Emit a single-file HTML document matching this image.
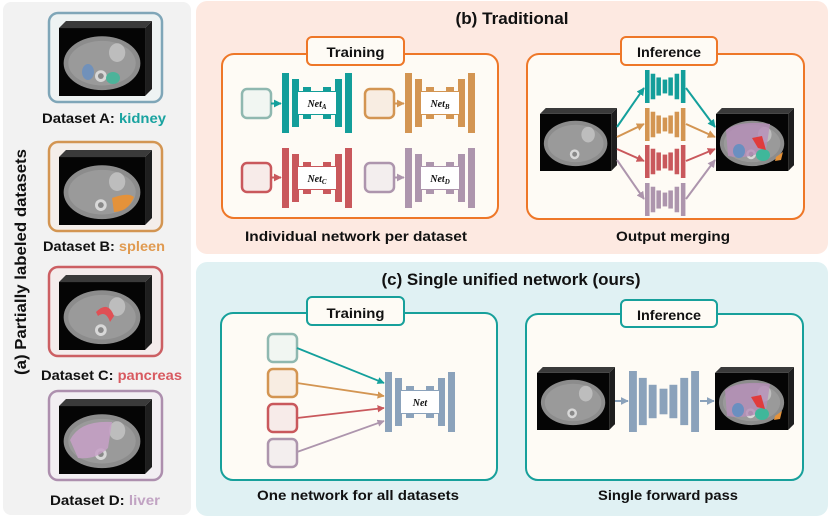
<!DOCTYPE html>
<html><head><meta charset="utf-8"><style>
html,body{margin:0;padding:0;background:#fff;}
svg{display:block;}
text{font-family:"Liberation Sans",sans-serif;font-weight:bold;fill:#111;}
</style></head><body>
<svg width="830" height="517" viewBox="0 0 830 517" xmlns="http://www.w3.org/2000/svg">
<defs>
<symbol id="ct" viewBox="0 0 80 64" preserveAspectRatio="none">
<polygon points="0,6 6,0 80,0 74,6" fill="#3a3a3a"/>
<polygon points="74,6 80,0 80,58 74,64" fill="#1e1e1e"/>
<rect x="0" y="6" width="74" height="58" fill="#050505"/>
<ellipse cx="37" cy="36" rx="33" ry="23" fill="#8c8c8c"/>
<ellipse cx="37" cy="36" rx="29" ry="19" fill="#9a9a9a"/>
<ellipse cx="50" cy="27" rx="7" ry="8" fill="#bdbdbd"/>
<circle cx="36" cy="47" r="5" fill="#d8d8d8"/>
<circle cx="36" cy="47" r="2.5" fill="#888"/>
</symbol>
<symbol id="net" viewBox="0 0 70 60" preserveAspectRatio="none">
<rect x="0" y="0" width="7" height="60"/>
<rect x="63" y="0" width="7" height="60"/>
<rect x="10" y="6" width="7" height="48"/>
<rect x="53" y="6" width="7" height="48"/>
<rect x="17" y="18" width="36" height="24"/>
<rect x="21" y="14" width="8" height="32"/>
<rect x="41" y="14" width="8" height="32"/>
</symbol>
<symbol id="unet" viewBox="0 0 72 62" preserveAspectRatio="none">
<rect x="0" y="0" width="8" height="62"/>
<rect x="10" y="7" width="8" height="48"/>
<rect x="20" y="14" width="8" height="34"/>
<rect x="31" y="18" width="8" height="26"/>
<rect x="41" y="14" width="8" height="34"/>
<rect x="52" y="7" width="8" height="48"/>
<rect x="63" y="0" width="8" height="62"/>
</symbol>
<marker id="ah" viewBox="0 0 10 10" refX="9" refY="5" markerWidth="4" markerHeight="4" orient="auto"><path d="M0,0 L10,5 L0,10 z" fill="context-stroke"/></marker>
</defs>

<!-- (a) panel -->
<rect x="3" y="2" width="188" height="513" rx="8" fill="#f2f2f2"/>
<text transform="translate(26,262) rotate(-90)" text-anchor="middle" font-size="16" textLength="226" lengthAdjust="spacingAndGlyphs">(a) Partially labeled datasets</text>

<rect x="49" y="13" width="113" height="89" rx="9" fill="#eef3f3" stroke="#7fa6b8" stroke-width="2.5"/>
<use href="#ct" x="59" y="21" width="93" height="75"/>
<ellipse cx="88" cy="72" rx="6" ry="8" fill="#6a8fc0" opacity="0.85"/>
<ellipse cx="113" cy="78" rx="7" ry="6" fill="#3fb79a" opacity="0.85"/>
<text x="42" y="123" font-size="14" textLength="124" lengthAdjust="spacingAndGlyphs">Dataset A: <tspan style="fill:#19a3a0">kidney</tspan></text>

<rect x="49" y="142" width="113" height="89" rx="9" fill="#f4eeea" stroke="#d39552" stroke-width="2.5"/>
<use href="#ct" x="59" y="150" width="93" height="75"/>
<path d="M112,198 Q128,192 134,197 Q128,212 114,212 Z" fill="#e4923a"/>
<text x="43" y="251" font-size="14" textLength="122" lengthAdjust="spacingAndGlyphs">Dataset B: <tspan style="fill:#e09a50">spleen</tspan></text>

<rect x="49" y="267" width="113" height="89" rx="9" fill="#f4ecec" stroke="#cc5f63" stroke-width="2.5"/>
<use href="#ct" x="59" y="275" width="93" height="75"/>
<path d="M96,312 Q108,300 114,316 L110,322 Q106,310 98,316 Z" fill="#e05055"/>
<text x="41" y="380" font-size="14" textLength="141" lengthAdjust="spacingAndGlyphs">Dataset C: <tspan style="fill:#d85a60">pancreas</tspan></text>

<rect x="49" y="391" width="113" height="89" rx="9" fill="#f2eef2" stroke="#ad8fae" stroke-width="2.5"/>
<use href="#ct" x="59" y="399" width="93" height="75"/>
<path d="M70,440 Q80,420 112,422 L108,448 Q96,460 78,458 Z" fill="#c7a0c7" opacity="0.85"/>
<text x="50" y="505" font-size="14" textLength="110" lengthAdjust="spacingAndGlyphs">Dataset D: <tspan style="fill:#c1a3c3">liver</tspan></text>

<!-- (b) panel -->
<rect x="196" y="1" width="632" height="253" rx="11" fill="#fde9e1"/>
<text x="512" y="24" text-anchor="middle" font-size="17" textLength="113" lengthAdjust="spacingAndGlyphs">(b) Traditional</text>

<rect x="222" y="54" width="276" height="164" rx="12" fill="#fefbf5" stroke="#ee7728" stroke-width="2"/>
<rect x="307" y="37" width="97" height="28" rx="5" fill="#fefbf5" stroke="#ee7728" stroke-width="2"/>
<text x="355.5" y="57" text-anchor="middle" font-size="14" textLength="58" lengthAdjust="spacingAndGlyphs">Training</text>

<rect x="242" y="89" width="29" height="29" rx="5" fill="#f1f6f2" stroke="#8fb8b0" stroke-width="2.5"/>
<line x1="271" y1="103.5" x2="281" y2="103.5" stroke="#14a09c" stroke-width="2" marker-end="url(#ah)"/>
<use href="#net" x="282" y="73" width="70" height="60" fill="#139e9a"/>
<rect x="298" y="92" width="38" height="22" fill="#fff"/>
<text x="317" y="107" text-anchor="middle" font-size="10" font-style="italic" style="font-family:'Liberation Serif',serif">Net<tspan font-size="7" dy="2">A</tspan></text>

<rect x="365" y="89" width="29" height="29" rx="5" fill="#f8ede2" stroke="#d39552" stroke-width="2.5"/>
<line x1="394" y1="103.5" x2="404" y2="103.5" stroke="#d39552" stroke-width="2" marker-end="url(#ah)"/>
<use href="#net" x="405" y="73" width="70" height="60" fill="#d39552"/>
<rect x="421" y="92" width="38" height="22" fill="#fff"/>
<text x="440" y="107" text-anchor="middle" font-size="10" font-style="italic" style="font-family:'Liberation Serif',serif">Net<tspan font-size="7" dy="2">B</tspan></text>

<rect x="242" y="163" width="29" height="29" rx="5" fill="#f7ebe9" stroke="#c9585c" stroke-width="2.5"/>
<line x1="271" y1="177.5" x2="281" y2="177.5" stroke="#c9585c" stroke-width="2" marker-end="url(#ah)"/>
<use href="#net" x="282" y="148" width="70" height="60" fill="#c9585c"/>
<rect x="298" y="167" width="38" height="22" fill="#fff"/>
<text x="317" y="182" text-anchor="middle" font-size="10" font-style="italic" style="font-family:'Liberation Serif',serif">Net<tspan font-size="7" dy="2">C</tspan></text>

<rect x="365" y="163" width="29" height="29" rx="5" fill="#f3eeee" stroke="#ad95ad" stroke-width="2.5"/>
<line x1="394" y1="177.5" x2="404" y2="177.5" stroke="#ad95ad" stroke-width="2" marker-end="url(#ah)"/>
<use href="#net" x="405" y="148" width="70" height="60" fill="#ad95ad"/>
<rect x="421" y="167" width="38" height="22" fill="#fff"/>
<text x="440" y="182" text-anchor="middle" font-size="10" font-style="italic" style="font-family:'Liberation Serif',serif">Net<tspan font-size="7" dy="2">D</tspan></text>

<text x="356" y="241" text-anchor="middle" font-size="14" textLength="222" lengthAdjust="spacingAndGlyphs">Individual network per dataset</text>

<rect x="527" y="54" width="277" height="165" rx="12" fill="#fefbf5" stroke="#ee7728" stroke-width="2"/>
<rect x="621" y="37" width="96" height="28" rx="5" fill="#fefbf5" stroke="#ee7728" stroke-width="2"/>
<text x="669" y="57" text-anchor="middle" font-size="14" textLength="64" lengthAdjust="spacingAndGlyphs">Inference</text>

<use href="#ct" x="540" y="108" width="77" height="63"/>
<use href="#ct" x="716" y="108" width="78" height="63"/>
<path d="M726,130 Q740,120 770,124 L766,150 Q748,160 728,156 Z" fill="#b78fb9" opacity="0.8"/>
<ellipse cx="739" cy="151" rx="6" ry="7" fill="#6a8fc0"/>
<ellipse cx="763" cy="155" rx="7" ry="6" fill="#3fb79a"/>
<path d="M752,138 L762,136 L766,150 L758,148 Z" fill="#e03c3c"/>
<path d="M776,157 L783,152 L781,160 L775,161 Z" fill="#e4923a"/>

<g stroke-width="2" fill="none">
<line x1="617" y1="127" x2="644" y2="88" stroke="#14a09c" marker-end="url(#ah)"/>
<line x1="617" y1="137" x2="644" y2="124" stroke="#d39552" marker-end="url(#ah)"/>
<line x1="617" y1="149" x2="644" y2="161" stroke="#c9585c" marker-end="url(#ah)"/>
<line x1="617" y1="160" x2="644" y2="199" stroke="#ad95ad" marker-end="url(#ah)"/>
<line x1="686" y1="88" x2="715" y2="127" stroke="#14a09c" marker-end="url(#ah)"/>
<line x1="686" y1="124" x2="715" y2="137" stroke="#d39552" marker-end="url(#ah)"/>
<line x1="686" y1="161" x2="715" y2="149" stroke="#c9585c" marker-end="url(#ah)"/>
<line x1="686" y1="199" x2="715" y2="160" stroke="#ad95ad" marker-end="url(#ah)"/>
</g>
<use href="#unet" x="645" y="70" width="41" height="33" fill="#139e9a"/>
<use href="#unet" x="645" y="108" width="41" height="33" fill="#d39552"/>
<use href="#unet" x="645" y="145" width="41" height="33" fill="#c9585c"/>
<use href="#unet" x="645" y="183" width="41" height="33" fill="#ad95ad"/>

<text x="673" y="241" text-anchor="middle" font-size="14" textLength="114" lengthAdjust="spacingAndGlyphs">Output merging</text>

<!-- (c) panel -->
<rect x="196" y="262" width="632" height="254" rx="11" fill="#e0f1f3"/>
<text x="511" y="285" text-anchor="middle" font-size="17" textLength="259" lengthAdjust="spacingAndGlyphs">(c) Single unified network (ours)</text>

<rect x="221" y="313" width="276" height="167" rx="12" fill="#fefbf5" stroke="#17a09b" stroke-width="2"/>
<rect x="307" y="297" width="97" height="28" rx="5" fill="#fefbf5" stroke="#17a09b" stroke-width="2"/>
<text x="355.5" y="318" text-anchor="middle" font-size="14" textLength="58" lengthAdjust="spacingAndGlyphs">Training</text>

<rect x="268" y="334" width="29" height="28" rx="5" fill="#f1f6f2" stroke="#8fb8b0" stroke-width="2.5"/>
<rect x="268" y="369" width="29" height="28" rx="5" fill="#f8ede2" stroke="#d39552" stroke-width="2.5"/>
<rect x="268" y="404" width="29" height="28" rx="5" fill="#f7ebe9" stroke="#c9585c" stroke-width="2.5"/>
<rect x="268" y="439" width="29" height="28" rx="5" fill="#f3eeee" stroke="#ad95ad" stroke-width="2.5"/>
<g stroke-width="1.8">
<line x1="297" y1="348" x2="384" y2="383" stroke="#14a09c" marker-end="url(#ah)"/>
<line x1="297" y1="383" x2="384" y2="396" stroke="#d39552" marker-end="url(#ah)"/>
<line x1="297" y1="418" x2="384" y2="408" stroke="#c9585c" marker-end="url(#ah)"/>
<line x1="297" y1="452" x2="384" y2="421" stroke="#ad95ad" marker-end="url(#ah)"/>
</g>
<use href="#net" x="385" y="372" width="70" height="60" fill="#8ba2bb"/>
<rect x="401" y="391" width="38" height="22" fill="#fff"/>
<text x="420" y="406" text-anchor="middle" font-size="10" font-style="italic" style="font-family:'Liberation Serif',serif">Net</text>

<text x="358" y="500" text-anchor="middle" font-size="14" textLength="202" lengthAdjust="spacingAndGlyphs">One network for all datasets</text>

<rect x="526" y="314" width="277" height="166" rx="12" fill="#fefbf5" stroke="#17a09b" stroke-width="2"/>
<rect x="621" y="300" width="96" height="27" rx="5" fill="#fefbf5" stroke="#17a09b" stroke-width="2"/>
<text x="669" y="320" text-anchor="middle" font-size="14" textLength="64" lengthAdjust="spacingAndGlyphs">Inference</text>

<use href="#ct" x="537" y="367" width="78" height="63"/>
<use href="#ct" x="715" y="367" width="79" height="63"/>
<path d="M725,390 Q740,380 770,384 L766,410 Q748,420 727,416 Z" fill="#b78fb9" opacity="0.8"/>
<ellipse cx="738" cy="410" rx="6" ry="7" fill="#6a8fc0"/>
<ellipse cx="762" cy="414" rx="7" ry="6" fill="#3fb79a"/>
<path d="M751,397 L761,395 L765,409 L757,407 Z" fill="#e03c3c"/>
<path d="M775,416 L782,411 L780,419 L774,420 Z" fill="#e4923a"/>
<g stroke="#8ba2bb" stroke-width="2">
<line x1="615" y1="401" x2="628" y2="401" marker-end="url(#ah)"/>
<line x1="700" y1="401" x2="714" y2="401" marker-end="url(#ah)"/>
</g>
<use href="#unet" x="629" y="371" width="71" height="61" fill="#8ba2bb"/>

<text x="668" y="500" text-anchor="middle" font-size="14" textLength="140" lengthAdjust="spacingAndGlyphs">Single forward pass</text>
</svg>
</body></html>
